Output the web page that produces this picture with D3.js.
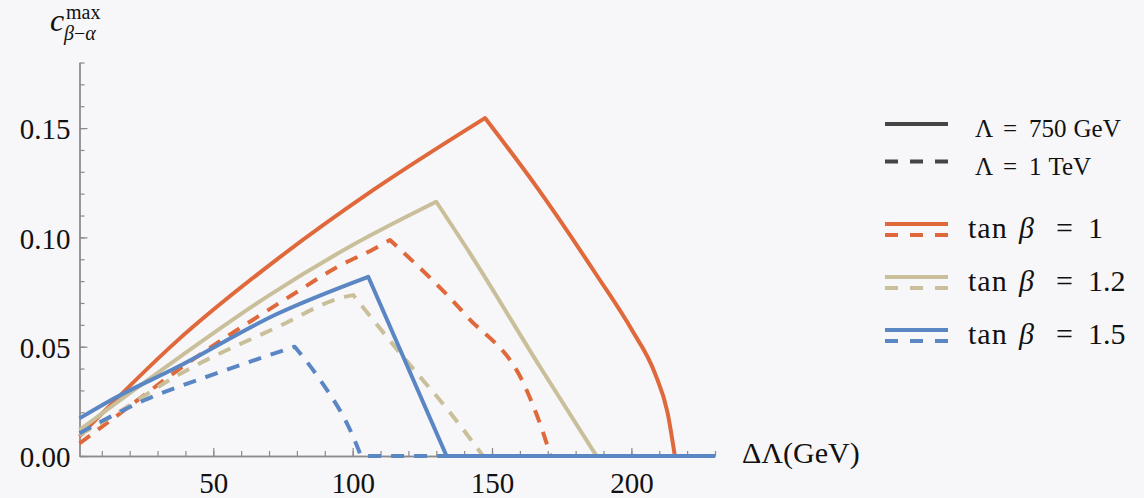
<!DOCTYPE html>
<html>
<head>
<meta charset="utf-8">
<script src="https://cdn.jsdelivr.net/npm/d3@7"></script>
<style>
  body { margin: 0; background: #f7f7f9; }
  svg { display: block; }
  text { font-family: "Liberation Serif", "DejaVu Serif", serif; fill: #111; }
</style>
</head>
<body>
<svg id="chart" width="1144" height="498"></svg>
<script>
// values: [deltaLambda (GeV), c_max]
var tb1_750 = [[2,0.009],[37.3,0.053],[73.2,0.0903],[107.3,0.1216],[147.5,0.1546],
               [166,0.1231],[187.5,0.0828],[200.2,0.0576],[208.4,0.038],[213,0.0197],[215.6,0],[230,0]];
var tb1_1000 = [[2,0.0058],[13.4,0.0165],[37.3,0.0393],[79.2,0.0744],[94.7,0.0866],[107.3,0.0945],[113.4,0.0988],
                [140.9,0.064],[162.4,0.0302],[169.6,0.0058],[171,0],[230,0]];
var tb12_750 = [[2,0.0119],[37.3,0.0447],[70,0.0735],[100,0.0965],[130,0.1163],
                [142.1,0.0927],[167.2,0.0408],[187.5,0],[230,0]];
var tb12_1000 = [[2,0.0096],[13.4,0.018],[37.3,0.037],[73.2,0.0591],[97.1,0.0728],[100.2,0.0736],
                 [118.1,0.0454],[136.1,0.018],[146.8,0],[230,0]];
var tb15_750 = [[2,0.0172],[13.4,0.0256],[37.3,0.0408],[73.2,0.0652],[105.6,0.082],[133.7,0],[230,0]];
var tb15_1000 = [[2,0.0104],[25.4,0.0256],[49.3,0.037],[79.2,0.05],[87.5,0.0363],[100.7,0.0073],[103,0],[230,0]];

var xMajor = [50, 100, 150, 200];
var xMinor = d3.range(10, 231, 10);
var yMajor = [0, 0.05, 0.10, 0.15];
var yMinor = d3.range(0, 0.181, 0.01);

var colors = {"1": "#e0693c", "1.2": "#c9c09b", "1.5": "#5b86c4"};
var series = [
  {tb: "1", dashed: false, data: tb1_750},
  {tb: "1", dashed: true, data: tb1_1000},
  {tb: "1.2", dashed: false, data: tb12_750},
  {tb: "1.2", dashed: true, data: tb12_1000},
  {tb: "1.5", dashed: false, data: tb15_750},
  {tb: "1.5", dashed: true, data: tb15_1000}
];

var svg = d3.select("#chart");
var x = d3.scaleLinear().domain([2, 230]).range([79.5, 715]);
var y = d3.scaleLinear().domain([0, 0.18]).range([456, 62.5]);

function styleAxis(g) {
  g.selectAll("path.domain").attr("stroke", "#8a8a8a").attr("stroke-width", 1.3);
  g.selectAll(".tick line").attr("stroke", "#8a8a8a").attr("stroke-width", 1.2);
}

// minor ticks
svg.append("g").attr("transform", "translate(0,456)")
  .call(d3.axisBottom(x).tickValues(xMinor).tickSize(-5).tickSizeOuter(0).tickFormat(""))
  .call(styleAxis);
svg.append("g").attr("transform", "translate(79.5,0)")
  .call(d3.axisLeft(y).tickValues(yMinor).tickSize(-5).tickSizeOuter(0).tickFormat(""))
  .call(styleAxis);

// major ticks + labels
var gx = svg.append("g").attr("transform", "translate(0,456)")
  .call(d3.axisBottom(x).tickValues(xMajor).tickSize(-8).tickSizeOuter(0).tickPadding(16))
  .call(styleAxis);
gx.selectAll("text").attr("font-size", 29).style("font-family", "Liberation Serif");
var gy = svg.append("g").attr("transform", "translate(79.5,0)")
  .call(d3.axisLeft(y).tickValues(yMajor).tickSize(-8).tickSizeOuter(0).tickPadding(9).tickFormat(d3.format(".2f")))
  .call(styleAxis);
gy.selectAll("text").attr("font-size", 29).attr("dy", "0.37em").style("font-family", "Liberation Serif");

// smooth each piece (rise, fall, flat zero) separately so the corners stay sharp
var line = d3.line().x(function(d) { return x(d[0]); }).y(function(d) { return y(d[1]); })
  .curve(d3.curveMonotoneX);

function piecewisePath(data) {
  var peak = d3.maxIndex(data, function(d) { return d[1]; });
  var zero = data.findIndex(function(d, i) { return i > peak && d[1] === 0; });
  var pieces = [data.slice(0, peak + 1), data.slice(peak, zero + 1), data.slice(zero)];
  return pieces.map(function(p, i) {
    var s = line(p);
    return i === 0 ? s : "L" + s.slice(1);
  }).join("");
}

series.forEach(function(s) {
  svg.append("path")
    .attr("fill", "none")
    .attr("stroke", colors[s.tb])
    .attr("stroke-width", 4)
    .attr("stroke-linejoin", "round")
    .attr("stroke-dasharray", s.dashed ? "13,10" : null)
    .attr("d", piecewisePath(s.data));
});

// axis titles
var yl = svg.append("text").attr("x", 50).attr("y", 31).attr("font-size", 32);
yl.append("tspan").attr("font-style", "italic").text("c");
yl.append("tspan").attr("x", 66).attr("y", 19).attr("font-size", 20).text("max");
yl.append("tspan").attr("x", 64).attr("y", 40).attr("font-size", 20).attr("font-style", "italic").text("β");
yl.append("tspan").attr("font-size", 20).text("−");
yl.append("tspan").attr("font-size", 20).attr("font-style", "italic").text("α");

svg.append("text").attr("x", 742).attr("y", 463).attr("font-size", 30).text("ΔΛ(GeV)");

// legend
var lg = svg.append("g");
var lamRows = [{lam: "750", unit: "GeV", dashed: false, y: 124}, {lam: "1", unit: "TeV", dashed: true, y: 161.5}];
lamRows.forEach(function(r) {
  lg.append("line").attr("x1", 885).attr("x2", 948).attr("y1", r.y).attr("y2", r.y)
    .attr("stroke", "#454545").attr("stroke-width", 4)
    .attr("stroke-dasharray", r.dashed ? "13,12" : null);
  var t = lg.append("text").attr("y", r.y + 13).attr("font-size", 25);
  t.append("tspan").attr("x", 975).text("Λ");
  t.append("tspan").attr("x", 1003).text("=");
  t.append("tspan").attr("x", 1029).text(r.lam);
  t.append("tspan").attr("dx", 7).text(r.unit);
});
var tbRows = [{tb: "1", y: 224}, {tb: "1.2", y: 277}, {tb: "1.5", y: 330}];
tbRows.forEach(function(r) {
  lg.append("line").attr("x1", 885).attr("x2", 948).attr("y1", r.y).attr("y2", r.y)
    .attr("stroke", colors[r.tb]).attr("stroke-width", 4);
  lg.append("line").attr("x1", 885).attr("x2", 948).attr("y1", r.y + 11).attr("y2", r.y + 11)
    .attr("stroke", colors[r.tb]).attr("stroke-width", 4).attr("stroke-dasharray", "13,12");
  var t = lg.append("text").attr("y", r.y + 14).attr("font-size", 30);
  t.append("tspan").attr("x", 968).attr("letter-spacing", 1).text("tan");
  t.append("tspan").attr("x", 1019).attr("font-style", "italic").text("β");
  t.append("tspan").attr("x", 1056).text("=");
  t.append("tspan").attr("x", 1088).text(r.tb);
});
</script>
</body>
</html>
